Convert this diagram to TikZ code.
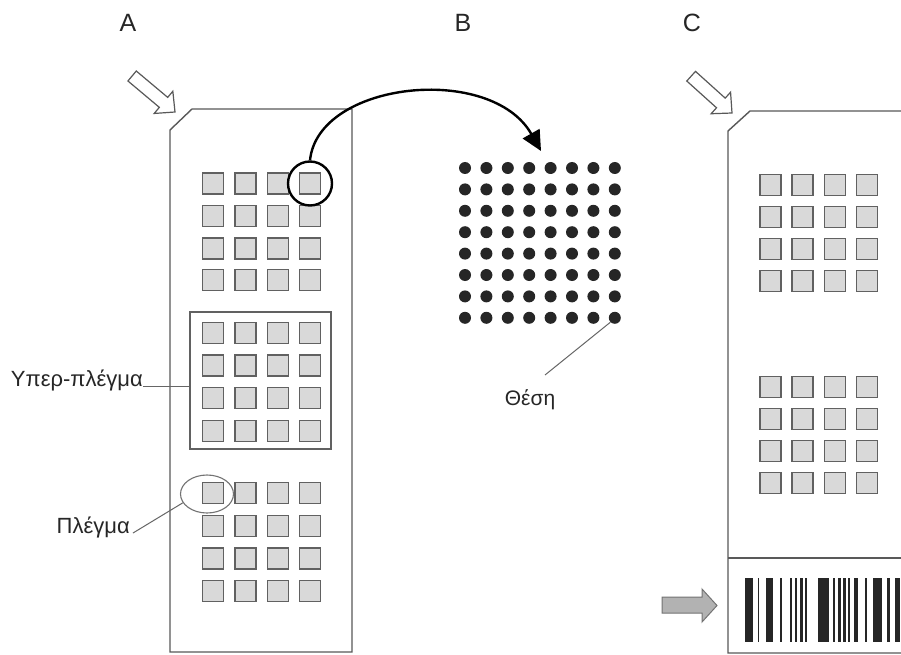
\documentclass[tikz,border=0pt]{standalone}
\usepackage{fontspec}
\setmainfont{Liberation Sans}
\usetikzlibrary{arrows.meta,calc,shapes.geometric}
\begin{document}
\begin{tikzpicture}[x=1pt,y=-1pt,
  outline/.style={draw=black!65, line width=1.4pt, line join=miter},
  sq/.style={draw=black!62, fill=black!15, line width=1.3pt, minimum size=21pt, inner sep=0pt},
  dotn/.style={circle, fill=black!85, minimum size=12pt, inner sep=0pt},
  lbl/.style={font=\fontsize{22}{26}\selectfont, inner sep=0pt, text=black!85},
  big/.style={font=\fontsize{25}{30}\selectfont, inner sep=0pt, text=black!85},
  leader/.style={draw=black!60, line width=1pt},
  hollow/.style={draw=black!65, fill=white, line width=1.2pt, line join=miter}]
\clip (0,0) rectangle (901,655);
\fill[white] (0,0) rectangle (901,655);

% panel letters
\node[big] (labA) at (128,23) {A};
\node[big] (labB) at (463,23) {B};
\node[big] (labC) at (692,23) {C};

% ---------- slide A ----------
\draw[outline] (192,109) -- (352,109) -- (352,652) -- (170,652) -- (170,130) -- cycle;
\draw[hollow, shift={(175,112)}, rotate=-40]
  (0,0) -- (-15,-14.5) -- (-15,-6.5) -- (-56,-6.5) -- (-56,6.5) -- (-15,6.5) -- (-15,14.5) -- cycle;

\foreach \r/\y in {1/183.5,2/216,3/248.5,4/280}{
  \foreach \c/\x in {1/213,2/245.5,3/278,4/310}{
    \node[sq] (ga-\r-\c) at (\x,\y) {};}}
\foreach \r/\y in {1/333,2/365.5,3/398,4/431}{
  \foreach \c/\x in {1/213,2/245.5,3/278,4/310}{
    \node[sq] (gb-\r-\c) at (\x,\y) {};}}
\foreach \r/\y in {1/493,2/526,3/558.5,4/591}{
  \foreach \c/\x in {1/213,2/245.5,3/278,4/310}{
    \node[sq] (gc-\r-\c) at (\x,\y) {};}}

\node[draw=black!62, line width=1.2pt, minimum width=141pt, minimum height=137pt, inner sep=0pt] (super) at (260.5,380.5) {};
\node[lbl, anchor=base east] (lsuper) at (143,386) {Υπερ-πλέγμα};
\draw[leader] (lsuper.base east) -- (super.west |- lsuper.base east);

\node[ellipse, draw=black!55, line width=1.1pt, minimum width=53pt, minimum height=38pt, inner sep=0pt] (ell) at (207,494) {};
\node[lbl, anchor=base east] (lgrid) at (130,533) {Πλέγμα};
\draw[leader] ([xshift=3pt]lgrid.base east) -- (ell.200);

\node[circle, draw=black, line width=2.4pt, minimum size=44pt, inner sep=0pt] (zoomc) at (310,183.5) {};

% ---------- panel B ----------
\foreach \i in {1,...,8}{
  \foreach \j in {1,...,8}{
    \node[dotn] (d-\i-\j) at ({465+(\j-1)*21.4},{168+(\i-1)*21.4}) {};}}
\coordinate (btip) at (541,151);
\draw[line width=2.4pt, -{Triangle[length=20pt,width=19pt]}]
  (zoomc.north) .. controls +(8,-79) and +(-50,-88) .. (btip);

\node[lbl, font=\fontsize{21}{25}\selectfont] (lpos) at (530,400) {Θέση};
\coordinate (posend) at (545,375);
\draw[leader] (d-8-8.225) -- (posend);

% ---------- slide C ----------
\draw[outline] (905,111) -- (750,111) -- (728,131) -- (728,653) -- (905,653);
\draw[outline] (728,558) -- (905,558);
\draw[hollow, shift={(732,113)}, rotate=-42]
  (0,0) -- (-15,-14.5) -- (-15,-6.5) -- (-55,-6.5) -- (-55,6.5) -- (-15,6.5) -- (-15,14.5) -- cycle;

\foreach \r/\y in {1/185,2/217,3/249,4/281}{
  \foreach \c/\x in {1/770.5,2/802.5,3/835,4/867}{
    \node[sq] (gd-\r-\c) at (\x,\y) {};}}
\foreach \r/\y in {1/387,2/419,3/451,4/483}{
  \foreach \c/\x in {1/770.5,2/802.5,3/835,4/867}{
    \node[sq] (ge-\r-\c) at (\x,\y) {};}}

% barcode
\foreach \a/\b in {745/752.5, 757.7/759.3, 766/773, 780/781.7, 790/791.7, 795/796.7, 800/802.7, 805/806.7,
  818/829, 833/835, 838/840.7, 842.7/846, 848/850, 854/858, 865/866.7, 873/881.7, 886.7/890, 895/900}{
  \fill[black!85] (\a,578) rectangle (\b,642);}

\draw[draw=black!55, fill=black!30, line width=1pt, line join=miter]
  (662,597) -- (702,597) -- (702,589) -- (717,605.5) -- (702,622) -- (702,613) -- (662,613) -- cycle;
\end{tikzpicture}
\end{document}
